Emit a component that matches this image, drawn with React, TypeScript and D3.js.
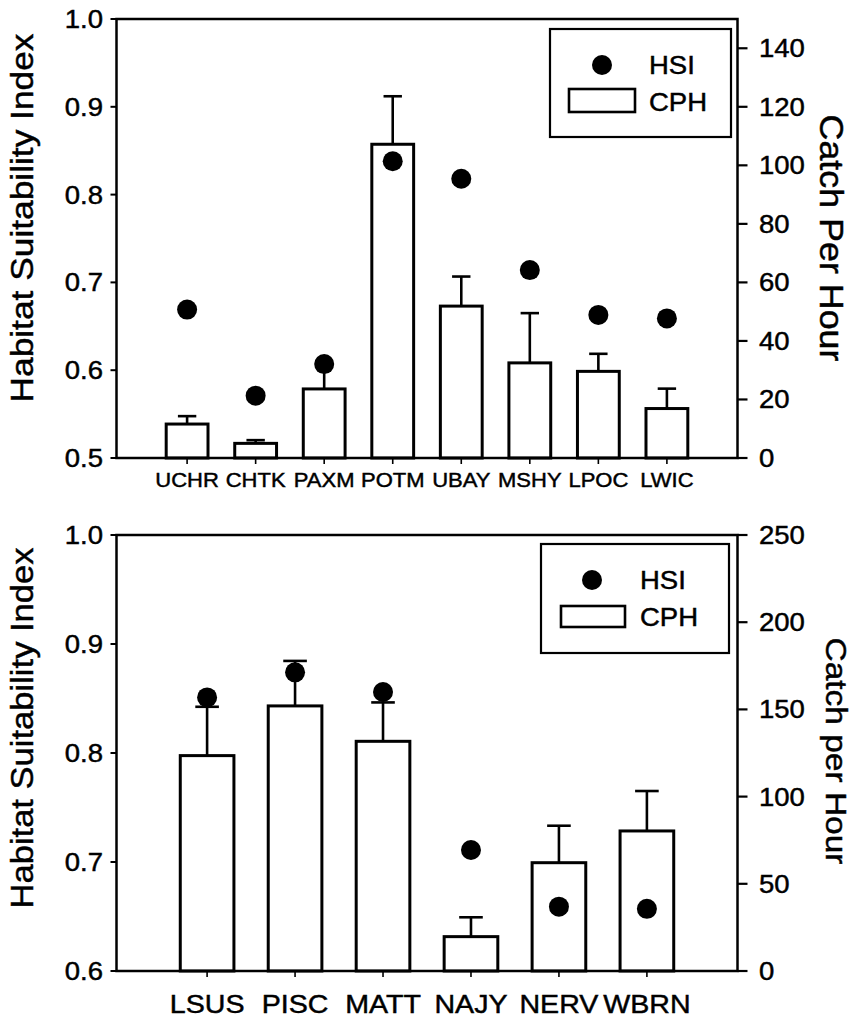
import React from 'react';
import * as d3 from 'd3';

// ---------- data ----------
const topSites = ['UCHR', 'CHTK', 'PAXM', 'POTM', 'UBAY', 'MSHY', 'LPOC', 'LWIC'];
const topHSI = [0.669, 0.571, 0.607, 0.838, 0.818, 0.714, 0.663, 0.659];
const topCPH = [11.6, 5.0, 23.6, 107.2, 51.9, 32.5, 29.6, 16.9];
const topErr = [2.7, 1.1, 8.4, 16.4, 10.1, 17.0, 6.0, 6.8];
const topLeftTicks = [0.5, 0.6, 0.7, 0.8, 0.9, 1.0];
const topRightTicks = [0, 20, 40, 60, 80, 100, 120, 140];

const botSites = ['LSUS', 'PISC', 'MATT', 'NAJY', 'NERV', 'WBRN'];
const botHSI = [0.851, 0.874, 0.856, 0.711, 0.659, 0.657];
const botCPH = [123.5, 152, 131.7, 19.7, 62.1, 80.3];
const botErr = [28, 25.8, 22.3, 11.1, 21.2, 22.9];
const botLeftTicks = [0.6, 0.7, 0.8, 0.9, 1.0];
const botRightTicks = [0, 50, 100, 150, 200, 250];

const leftTitle = 'Habitat Suitability Index';
const legendLabels = ['HSI', 'CPH'];

const FONT = '"Liberation Sans", Arial, Helvetica, sans-serif';
const SX = 1.1;
const TS = 0.45; // text stroke to mimic the heavy scanned type

function T({ x, y, anchor = 'start', size, dy, children }: any) {
  return (
    <text
      transform={`translate(${x},${y}) scale(${SX},1)`}
      textAnchor={anchor}
      fontSize={size}
      dy={dy}
      fontFamily={FONT}
      fill="#000"
      stroke="#000"
      strokeWidth={TS}
    >
      {children}
    </text>
  );
}

function Panel(p: any) {
  const x0 = 116.5, x1 = 737.5;
  const x = d3.scalePoint<string>().domain(p.sites).range([x0, x1]).padding(1.03);
  const yL = d3.scaleLinear().domain(p.leftDomain).range([p.yBot, p.yTop]);
  const yR = d3.scaleLinear().domain(p.rightDomain).range([p.yBot, p.yTop]);
  const bw = x.step() * 0.61;
  const cap = bw * 0.44;
  const fmt = d3.format('.1f');
  const lg = p.legend;
  return (
    <g>
      {/* bars */}
      {p.sites.map((s: string, i: number) => {
        const cx = x(s)!;
        const top = yR(p.cph[i]);
        const et = yR(p.cph[i] + p.err[i]);
        return (
          <g key={s}>
            <line x1={cx} x2={cx} y1={top} y2={et} stroke="#000" strokeWidth={2.6} />
            <line x1={cx - cap / 2} x2={cx + cap / 2} y1={et} y2={et} stroke="#000" strokeWidth={2.6} />
            <rect x={cx - bw / 2} y={top} width={bw} height={p.yBot - top} fill="#fff" stroke="#000" strokeWidth={3} />
          </g>
        );
      })}
      {/* dots */}
      {p.sites.map((s: string, i: number) => (
        <circle key={s} cx={x(s)!} cy={yL(p.hsi[i])} r={10} fill="#000" />
      ))}
      {/* frame */}
      <rect x={x0} y={p.yTop} width={x1 - x0} height={p.yBot - p.yTop} fill="none" stroke="#000" strokeWidth={2.5} />
      {/* left ticks */}
      {p.leftTicks.map((t: number) => (
        <g key={'l' + t}>
          <line x1={x0 - 6} x2={x0} y1={yL(t)} y2={yL(t)} stroke="#000" strokeWidth={2} />
          <T x={103} y={yL(t)} anchor="end" size={25} dy="0.36em">{fmt(t)}</T>
        </g>
      ))}
      {/* right ticks */}
      {p.rightTicks.map((t: number) => (
        <g key={'r' + t}>
          <line x1={x1} x2={x1 + 10} y1={yR(t)} y2={yR(t)} stroke="#000" strokeWidth={2.2} />
          <T x={759} y={yR(t)} anchor="start" size={25} dy="0.36em">{String(t)}</T>
        </g>
      ))}
      {/* x ticks and labels */}
      {p.sites.map((s: string) => (
        <g key={'x' + s}>
          <line x1={x(s)!} x2={x(s)!} y1={p.yBot} y2={p.yBot + 6} stroke="#000" strokeWidth={1.6} />
          <T x={x(s)!} y={p.xLabelY} anchor="middle" size={p.xLabelSize}>{s}</T>
        </g>
      ))}
      {/* axis titles */}
      <text
        transform={`translate(${p.lt.x},${p.lt.cy}) rotate(-90)`}
        textAnchor="middle"
        fontSize={32}
        fontFamily={FONT}
        stroke="#000"
        strokeWidth={TS}
        textLength={p.lt.len}
        lengthAdjust="spacingAndGlyphs"
      >
        {leftTitle}
      </text>
      <text
        transform={`translate(${p.rt.x},${p.rt.cy}) rotate(90)`}
        textAnchor="middle"
        fontSize={p.rt.size}
        fontFamily={FONT}
        stroke="#000"
        strokeWidth={TS}
        textLength={p.rt.len}
        lengthAdjust="spacingAndGlyphs"
      >
        {p.rt.text}
      </text>
      {/* legend */}
      <rect x={lg.box[0]} y={lg.box[1]} width={lg.box[2]} height={lg.box[3]} fill="#fff" stroke="#000" strokeWidth={2.2} />
      <circle cx={lg.dot[0]} cy={lg.dot[1]} r={10} fill="#000" />
      <T x={lg.t1[0]} y={lg.t1[1]} size={25}>{legendLabels[0]}</T>
      <rect x={lg.sw[0]} y={lg.sw[1]} width={lg.sw[2]} height={lg.sw[3]} fill="#fff" stroke="#000" strokeWidth={2.6} />
      <T x={lg.t2[0]} y={lg.t2[1]} size={25}>{legendLabels[1]}</T>
    </g>
  );
}

export default function App() {
  return (
    <svg
      width={852}
      height={1021}
      style={{ position: 'absolute', left: 0, top: 0, background: '#fff' }}
    >
      <rect width={852} height={1021} fill="#fff" />
      <Panel
        sites={topSites}
        hsi={topHSI}
        cph={topCPH}
        err={topErr}
        leftDomain={[0.5, 1.0]}
        rightDomain={[0, 150]}
        leftTicks={topLeftTicks}
        rightTicks={topRightTicks}
        yTop={19}
        yBot={458}
        xLabelY={487}
        xLabelSize={20}
        lt={{ x: 33, cy: 218, len: 369 }}
        rt={{ x: 820, cy: 238, len: 247, size: 34, text: 'Catch Per Hour' }}
        legend={{
          box: [550, 29, 181, 108],
          dot: [602, 65],
          t1: [649, 74],
          sw: [569, 89, 66, 23],
          t2: [649, 111],
        }}
      />
      <Panel
        sites={botSites}
        hsi={botHSI}
        cph={botCPH}
        err={botErr}
        leftDomain={[0.6, 1.0]}
        rightDomain={[0, 250]}
        leftTicks={botLeftTicks}
        rightTicks={botRightTicks}
        yTop={535}
        yBot={971}
        xLabelY={1013}
        xLabelSize={26}
        lt={{ x: 33, cy: 728, len: 361 }}
        rt={{ x: 826, cy: 751, len: 227, size: 30, text: 'Catch per Hour' }}
        legend={{
          box: [541, 544, 188, 109],
          dot: [592, 580],
          t1: [640, 589],
          sw: [561, 606, 64, 21],
          t2: [640, 626],
        }}
      />
    </svg>
  );
}
